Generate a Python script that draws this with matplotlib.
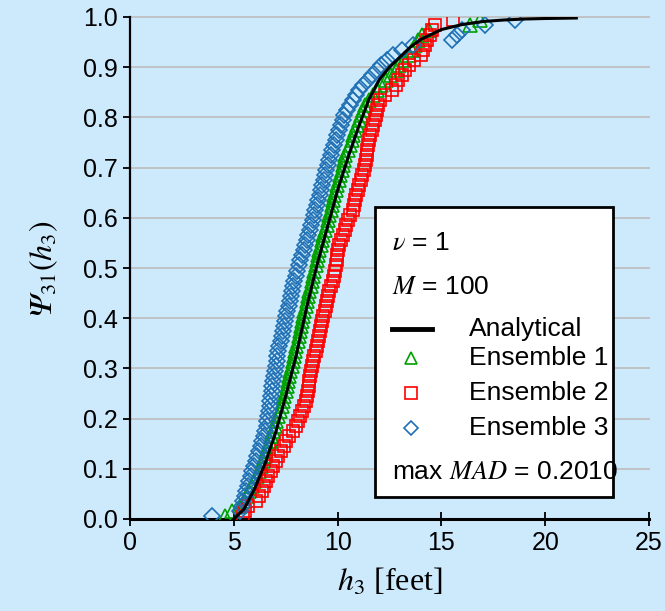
import matplotlib
matplotlib.use("Agg")
import matplotlib.pyplot as plt
from matplotlib.patches import Rectangle
from matplotlib.lines import Line2D

# ---- data -------------------------------------------------------------
M = 100
nu = 1
max_mad = 0.2010

# analytical CDF of h3
analytical_h3 = [5.0, 5.5, 6.0, 6.5, 7.0, 7.5, 8.0, 8.5, 9.0, 9.5, 10.0, 10.5,
                 11.0, 11.5, 12.0, 12.5, 13.0, 13.5, 14.0, 15.0, 16.0, 17.0,
                 18.0, 19.0, 20.0, 21.5]
analytical_psi = [0.0, 0.02, 0.06, 0.11, 0.17, 0.245, 0.325, 0.42, 0.505,
                  0.58, 0.655, 0.72, 0.78, 0.835, 0.875, 0.9, 0.92, 0.94,
                  0.955, 0.975, 0.985, 0.991, 0.994, 0.996, 0.997, 0.998]

# sorted h3 samples of each ensemble [feet]
ensemble1 = [4.6, 4.92, 5.3, 5.5, 5.62, 5.74, 5.86, 5.98, 6.1, 6.2,
             6.3, 6.4, 6.48, 6.56, 6.64, 6.72, 6.8, 6.9, 6.98, 7.05,
             7.13, 7.22, 7.3, 7.38, 7.44, 7.5, 7.55, 7.6, 7.66, 7.72,
             7.78, 7.84, 7.9, 7.96, 8.02, 8.08, 8.14, 8.19, 8.24, 8.3,
             8.35, 8.4, 8.46, 8.51, 8.57, 8.63, 8.7, 8.76, 8.82, 8.88,
             8.94, 9.0, 9.06, 9.12, 9.18, 9.25, 9.32, 9.4, 9.47, 9.54,
             9.6, 9.66, 9.72, 9.78, 9.85, 9.92, 9.98, 10.05, 10.12, 10.19,
             10.24, 10.3, 10.38, 10.5, 10.6, 10.7, 10.76, 10.85, 10.95, 11.05,
             11.14, 11.22, 11.32, 11.5, 11.7, 11.88, 12.1, 12.35, 12.58, 12.8,
             12.98, 13.2, 13.42, 13.56, 13.72, 13.88, 14.05, 14.4, 16.38, 16.88]

ensemble2 = [5.45, 5.55, 5.7, 6.05, 6.2, 6.35, 6.45, 6.56, 6.66, 6.78,
             6.9, 7.02, 7.14, 7.26, 7.4, 7.53, 7.65, 7.84, 7.98, 8.1,
             8.2, 8.3, 8.4, 8.46, 8.52, 8.56, 8.6, 8.64, 8.68, 8.72,
             8.75, 8.8, 8.88, 8.95, 9.02, 9.07, 9.12, 9.17, 9.22, 9.27,
             9.32, 9.38, 9.43, 9.48, 9.53, 9.6, 9.7, 9.78, 9.84, 9.88,
             9.92, 9.96, 9.99, 10.02, 10.06, 10.14, 10.24, 10.34, 10.42, 10.52,
             10.62, 10.74, 10.8, 10.85, 10.9, 10.97, 11.05, 11.12, 11.18, 11.25,
             11.33, 11.36, 11.4, 11.43, 11.46, 11.5, 11.58, 11.65, 11.72, 11.78,
             11.83, 11.9, 11.96, 12.02, 12.3, 12.62, 12.8, 12.92, 13.1, 13.25,
             13.45, 13.7, 14.02, 14.12, 14.2, 14.3, 14.45, 14.55, 14.68, 15.57]

ensemble3 = [3.96, 5.3, 5.38, 5.45, 5.52, 5.6, 5.68, 5.75, 5.82, 5.9,
             5.98, 6.05, 6.12, 6.22, 6.3, 6.36, 6.45, 6.52, 6.58, 6.62,
             6.66, 6.7, 6.73, 6.76, 6.8, 6.83, 6.86, 6.9, 6.93, 6.97,
             7.02, 7.06, 7.1, 7.15, 7.2, 7.25, 7.3, 7.36, 7.42, 7.47,
             7.52, 7.58, 7.64, 7.7, 7.76, 7.82, 7.87, 7.92, 7.98, 8.05,
             8.12, 8.2, 8.28, 8.36, 8.44, 8.52, 8.58, 8.66, 8.74, 8.8,
             8.86, 8.93, 9.0, 9.06, 9.13, 9.2, 9.27, 9.33, 9.4, 9.46,
             9.52, 9.6, 9.68, 9.75, 9.82, 9.9, 9.98, 10.08, 10.16, 10.24,
             10.33, 10.45, 10.58, 10.72, 10.88, 11.05, 11.24, 11.45, 11.65, 11.88,
             12.1, 12.36, 12.68, 13.09, 13.65, 15.5, 15.74, 15.98, 17.1, 18.55]

# empirical plotting positions (i - 0.5) / M
positions = [(i + 0.5) / M for i in range(M)]

x_ticks = [0, 5, 10, 15, 20, 25]
y_ticks = [0.0, 0.1, 0.2, 0.3, 0.4, 0.5, 0.6, 0.7, 0.8, 0.9, 1.0]

# ---- style ------------------------------------------------------------
bg = "#cdeafd"
plt.rcParams["font.family"] = ["Liberation Sans", "DejaVu Sans"]
plt.rcParams["mathtext.fontset"] = "stix"

fig = plt.figure(figsize=(6.65, 6.11), dpi=100, facecolor=bg)
ax = fig.add_axes([130 / 665, 92 / 611, 519 / 665, 502 / 611], facecolor=bg)

ax.set_xlim(0, 25)
ax.set_ylim(0, 1.0)
ax.set_xticks(x_ticks)
ax.set_yticks(y_ticks)
ax.set_xticklabels([str(t) for t in x_ticks])
ax.set_yticklabels([f"{t:.1f}" for t in y_ticks])

for y in y_ticks[1:]:
    ax.axhline(y, color="#bfbfbf", lw=1.3, zorder=0, clip_on=False)

for s in ("top", "right"):
    ax.spines[s].set_visible(False)
ax.spines["left"].set_linewidth(1.6)
ax.spines["bottom"].set_linewidth(2.2)
ax.tick_params(axis="x", direction="inout", length=10, width=1.3,
               labelsize=18, pad=4)
ax.tick_params(axis="y", direction="out", length=5, width=1.3,
               labelsize=18, pad=4)

# ---- series -----------------------------------------------------------
c1, c2, c3 = "#00a000", "#ff0000", "#1f6fb4"
ax.plot(ensemble1, positions, ls="none", marker="^", ms=9.5, mfc="none",
        mec=c1, mew=1.2, zorder=3)
ax.plot(ensemble2, positions, ls="none", marker="s", ms=9, mfc="none",
        mec=c2, mew=1.2, zorder=3)
ax.plot(ensemble3, positions, ls="none", marker="D", ms=8, mfc="none",
        mec=c3, mew=1.2, zorder=4)
ax.plot(analytical_h3, analytical_psi, color="black", lw=2.2, zorder=5)

# ---- axis labels ------------------------------------------------------
ax.set_xlabel(r"$h_3$ [feet]", fontsize=23, family="Liberation Serif",
              labelpad=8)
ax.set_ylabel("$\U0001D6F9_{31}(h_3)$", fontsize=23, labelpad=16)

# ---- legend box -------------------------------------------------------
bx0, bx1, by0, by1 = 0.472, 0.931, 0.044, 0.6215
ax.add_patch(Rectangle((bx0, by0), bx1 - bx0, by1 - by0,
                       transform=ax.transAxes, facecolor="white",
                       edgecolor="black", lw=2, zorder=10))
tx = 0.505
lx = 0.653
fs = 19
ax.text(tx, 0.55, rf"$\nu$ = {nu}", transform=ax.transAxes, fontsize=fs,
        va="center", ha="left", zorder=11)
ax.text(tx, 0.462, rf"$M$ = {M}", transform=ax.transAxes, fontsize=fs,
        va="center", ha="left", zorder=11)
ax.add_line(Line2D([0.505, 0.582], [0.378, 0.378], transform=ax.transAxes,
                   color="black", lw=3.5, zorder=11))
ax.text(lx, 0.378, "Analytical", transform=ax.transAxes, fontsize=fs,
        va="center", ha="left", zorder=11)
for yy, mk, col, ms, name in [(0.321, "^", c1, 8, "Ensemble 1"),
                              (0.251, "s", c2, 8, "Ensemble 2"),
                              (0.181, "D", c3, 7, "Ensemble 3")]:
    ax.add_line(Line2D([0.541], [yy], transform=ax.transAxes, ls="none",
                       marker=mk, ms=ms, mfc="none", mec=col, mew=1.2,
                       zorder=11))
    ax.text(lx, yy, name, transform=ax.transAxes, fontsize=fs,
            va="center", ha="left", zorder=11)
ax.text(tx, 0.094, rf"max $MAD$ = {max_mad:.4f}", transform=ax.transAxes,
        fontsize=fs, va="center", ha="left", zorder=11)

fig.savefig("out.png", dpi=100, facecolor=bg)
